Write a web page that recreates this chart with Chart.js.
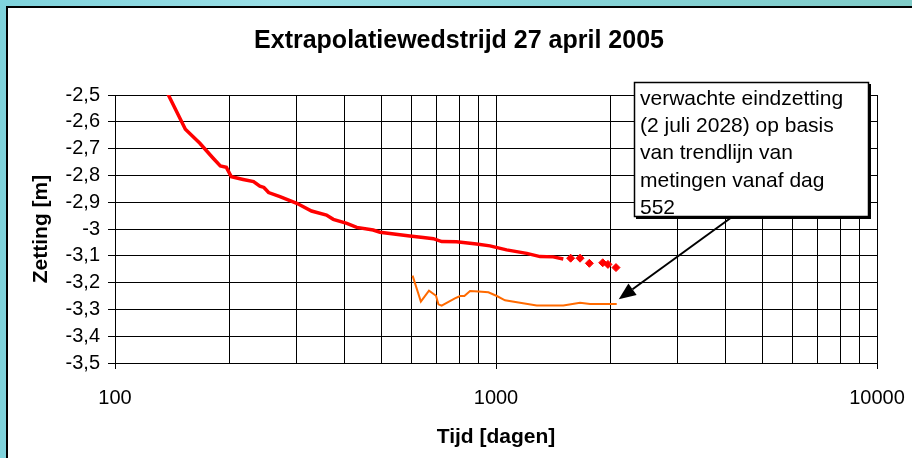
<!DOCTYPE html>
<html><head><meta charset="utf-8">
<script src="https://cdn.jsdelivr.net/npm/chart.js@4/dist/chart.umd.min.js"></script>
<style>html,body{margin:0;padding:0;background:#fff}#c{display:block}</style>
</head><body>
<canvas id="c" width="912" height="458"></canvas>
<script>
// ---- data ----
const titleText = 'Extrapolatiewedstrijd 27 april 2005';
const xTitle = 'Tijd [dagen]';
const yTitle = 'Zetting [m]';

const redDays   = [137, 153, 167, 181, 189, 196, 202, 217, 231, 240, 246, 253, 271, 300, 328, 359, 374, 406, 431, 476, 496, 594, 644, 685, 720, 788, 889, 964, 1066, 1204, 1305, 1413, 1502];
const redValues = [-2.49, -2.628, -2.680, -2.736, -2.765, -2.770, -2.805, -2.815, -2.823, -2.840, -2.845, -2.864, -2.879, -2.904, -2.933, -2.948, -2.964, -2.979, -2.994, -3.004, -3.012, -3.026, -3.032, -3.036, -3.047, -3.048, -3.056, -3.063, -3.078, -3.091, -3.103, -3.104, -3.112];

const diamondDays   = [1570, 1662, 1758, 1906, 1967, 2065];
const diamondValues = [-3.109, -3.109, -3.128, -3.126, -3.132, -3.144];

const orangeDays   = [604, 635, 667, 696, 706, 720, 780, 805, 826, 855, 899, 955, 1005, 1056, 1156, 1279, 1502, 1662, 1765, 1875, 2074];
const orangeValues = [-3.174, -3.271, -3.230, -3.249, -3.281, -3.286, -3.259, -3.250, -3.250, -3.231, -3.233, -3.236, -3.250, -3.266, -3.275, -3.285, -3.285, -3.275, -3.280, -3.280, -3.280];

const xGridValues = [100,200,300,400,500,600,700,800,900,1000,2000,3000,4000,5000,6000,7000,8000,9000,10000];
const xLabelValues = [100, 1000, 10000];
const yMin = -3.5, yMax = -2.5, yStep = 0.1;

const noteLines = ['verwachte eindzetting', '(2 juli 2028) op basis', 'van trendlijn van', 'metingen vanaf dag', '552'];
const arrowTipDay = 2100, arrowTipValue = -3.262;

const FONT = '"Liberation Sans", Arial, Helvetica, sans-serif';
const pts = (xs, ys) => xs.map((x, i) => ({x, y: ys[i]}));

const framePlugin = {
  id: 'frame',
  beforeDraw(chart) {
    const ctx = chart.ctx, W = chart.width, H = chart.height;
    ctx.save();
    const g = ctx.createLinearGradient(0, 0, W, 0);
    g.addColorStop(0, '#7fd3dc'); g.addColorStop(0.3, '#9adfe6'); g.addColorStop(0.6, '#86d4d9'); g.addColorStop(1, '#80ccc8');
    ctx.fillStyle = g; ctx.fillRect(0, 0, W, H);
    ctx.fillStyle = '#ffffff'; ctx.fillRect(7, 7, W - 7, H - 7);
    ctx.strokeStyle = '#000'; ctx.lineWidth = 2;
    ctx.beginPath(); ctx.moveTo(7, H); ctx.lineTo(7, 7); ctx.lineTo(W, 7); ctx.stroke();
    ctx.restore();
  }
};

const notePlugin = {
  id: 'note',
  afterDraw(chart) {
    const ctx = chart.ctx, xs = chart.scales.x, ys = chart.scales.y;
    const bx = 634, by = 82, bw = 235, bh = 135;
    ctx.save();
    // arrow
    const sx = 732, sy = by + bh;
    const tx = xs.getPixelForValue(arrowTipDay), ty = ys.getPixelForValue(arrowTipValue);
    const ang = Math.atan2(ty - sy, tx - sx);
    const L = 17, Wd = 7;
    const bxp = tx - L * Math.cos(ang), byp = ty - L * Math.sin(ang);
    ctx.strokeStyle = '#000'; ctx.lineWidth = 2;
    ctx.beginPath(); ctx.moveTo(sx, sy); ctx.lineTo(bxp, byp); ctx.stroke();
    ctx.fillStyle = '#000';
    ctx.beginPath();
    ctx.moveTo(tx, ty);
    ctx.lineTo(bxp + Wd * Math.sin(ang), byp - Wd * Math.cos(ang));
    ctx.lineTo(bxp - Wd * Math.sin(ang), byp + Wd * Math.cos(ang));
    ctx.closePath(); ctx.fill();
    // box shadow + box
    ctx.fillStyle = '#000'; ctx.fillRect(bx + 2, by + 2, bw, bh);
    ctx.fillStyle = '#fff'; ctx.fillRect(bx, by, bw, bh);
    ctx.strokeStyle = '#000'; ctx.lineWidth = 1.5;
    ctx.strokeRect(bx + 0.5, by + 0.5, bw - 1, bh - 1);
    ctx.fillStyle = '#000';
    ctx.font = '21px ' + FONT;
    ctx.textBaseline = 'middle'; ctx.textAlign = 'left';
    noteLines.forEach((t, i) => ctx.fillText(t, bx + 6, by + 17 + i * 27.3));
    ctx.restore();
  }
};

new Chart(document.getElementById('c'), {
  type: 'line',
  data: {
    datasets: [
      { label: 'metingen', data: pts(redDays, redValues), borderColor: '#ff0000', backgroundColor: '#ff0000', borderWidth: 3.5, pointRadius: 0, tension: 0 },
      { label: 'recent', data: pts(diamondDays, diamondValues), showLine: false, pointStyle: 'rectRot', pointRadius: 4, borderColor: '#ff0000', backgroundColor: '#ff0000', borderWidth: 1 },
      { label: 'orange', data: pts(orangeDays, orangeValues), borderColor: '#ff6a00', backgroundColor: '#ff6a00', borderWidth: 2, pointRadius: 0, tension: 0 }
    ]
  },
  options: {
    responsive: false, animation: false, devicePixelRatio: 1,
    layout: { padding: { left: 6, right: 0, top: 0, bottom: 0 } },
    plugins: {
      legend: { display: false }, tooltip: { enabled: false },
      title: { display: true, text: titleText, color: '#000', font: { family: FONT, size: 25, weight: 'bold' }, padding: { top: 26, bottom: 39 } }
    },
    scales: {
      x: {
        type: 'logarithmic', min: 100, max: 10000,
        afterBuildTicks: s => { s.ticks = xGridValues.map(v => ({ value: v, major: xLabelValues.includes(v) })); },
        afterFit: s => { s.height = 95; s.paddingRight = 35; s.paddingLeft = 0; },
        grid: { color: '#000', lineWidth: 1, tickLength: 6, tickColor: c => (c.tick && xLabelValues.includes(c.tick.value)) ? '#000' : 'rgba(0,0,0,0)' },
        border: { color: '#000', width: 1 },
        ticks: { autoSkip: false, maxRotation: 0, minRotation: 0, padding: 17, color: '#000', font: { family: FONT, size: 20 },
          callback: v => xLabelValues.includes(v) ? String(v) : '' },
        title: { display: true, text: xTitle, color: '#000', font: { family: FONT, size: 21, weight: 'bold' }, padding: { top: 0, bottom: 8 } }
      },
      y: {
        min: yMin, max: yMax,
        afterFit: s => { s.width = 109; },
        grid: { color: '#000', lineWidth: 1, tickLength: 7, tickColor: '#000' },
        border: { color: '#000', width: 1 },
        ticks: { autoSkip: false, stepSize: yStep, padding: 8, color: '#000', font: { family: FONT, size: 20 },
          callback: v => String(Math.round(v * 10) / 10).replace('.', ',') },
        title: { display: true, text: yTitle, color: '#000', font: { family: FONT, size: 21, weight: 'bold' }, padding: { top: 23, bottom: 0 } }
      }
    }
  },
  plugins: [framePlugin, notePlugin]
});
</script>
</body></html>
